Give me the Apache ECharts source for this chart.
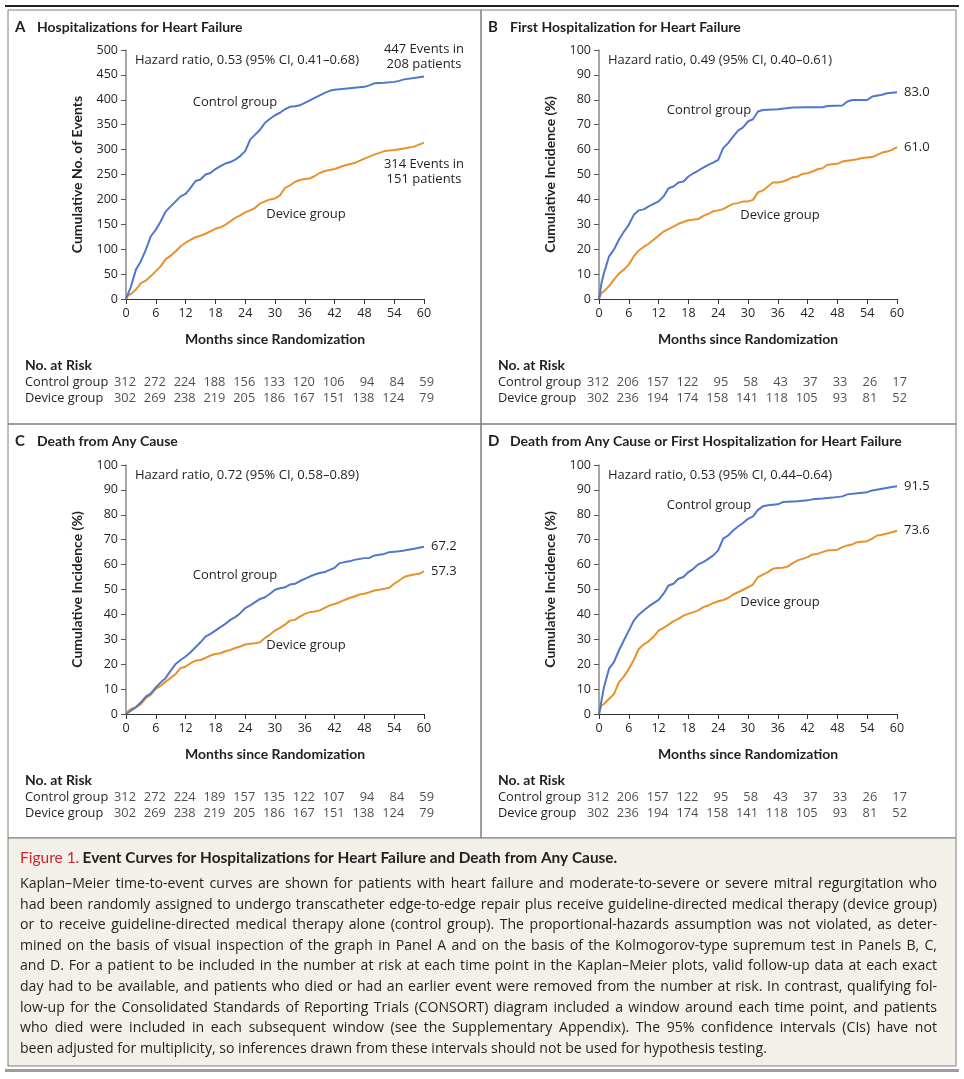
<!DOCTYPE html>
<html><head><meta charset="utf-8">
<script src="https://cdn.jsdelivr.net/npm/echarts@6/dist/echarts.min.js"></script>
<style>html,body{margin:0;padding:0;background:#fff}#c{width:964px;height:1079px}</style>
</head><body><div id="c"></div>
<script>
function range(a,b){var r=[];for(var i=a;i<=b;i++)r.push(i);return r;}

// ---------- DATA ----------
var months = [0,6,12,18,24,30,36,42,48,54,60];

var aCtrlT = range(0,42).concat([44,46,48,49,50,52,54,55,56,58,60]);
var aCtrlV = [0,25,59,76,99,126,139,156,176,186,196,206,211,223,237,240,250,253,261,267,272,275,280,287,297,320,330,340,354,362,369,374,381,386,387,389,394,399,404,409,414,418,420,422,424,426,429,433,434,436,438,441,444,447];
var aDevT = [0,0.5].concat(range(1,40)).concat([42,44,46,48,50,52,54,56,58,59,60]);
var aDevV = [0,8,10,19,32,37,46,56,66,80,87,96,106,113,119,124,127,131,136,141,144,149,156,163,168,174,178,183,192,196,200,202,208,223,228,235,239,241,242,247,253,257,261,268,273,282,290,297,299,302,306,310,314];

var bCtrlT = [0,0.5].concat(range(1,33)).concat([36,39,42,45,46,49,50,51,54,55,57,58,60]);
var bCtrlV = [0,6.4,10.4,17,19.8,23.8,27,29.8,33.8,35.6,36,37.2,38.2,39.2,41.2,44.5,45.2,46.8,47.2,49.2,50.5,51.6,52.8,53.9,54.8,55.9,60.6,62.6,65.2,67.6,68.9,71.3,72.2,75.3,75.9,76.2,76.9,77,77,77.5,77.7,79.3,79.9,79.9,81.3,82,82.6,83.0];
var bDevT = [0,0.5].concat(range(1,16)).concat([18,20]).concat(range(21,46)).concat([48,49,52,53,55,56,57,58,59,60]);
var bDevV = [0,2.5,3.1,5.1,7.8,10.2,11.8,13.8,17.1,19.5,20.9,22.2,23.8,25.4,27.1,28.1,29.1,30.2,31.6,32.1,33.4,34.2,35.2,35.6,36.1,37.2,38.2,38.5,39.2,39.2,39.8,42.8,43.6,45.2,46.8,46.8,47.2,47.9,48.9,49.2,50.3,50.5,51.2,52.1,52.5,53.9,54.3,55.2,56.1,56.6,57,57.9,58.8,59.2,59.9,61.0];

var cCtrlT = range(0,46).concat([48,49,50,52,53,55,56,58,60]);
var cCtrlV = [0,1.3,2.7,4.7,7,8.3,10.7,12.7,14.5,17.4,20.1,21.7,23.1,24.8,26.8,28.8,31.1,32.2,33.5,34.9,36.2,37.8,38.9,40.5,42.5,43.6,44.9,46.2,46.9,48.3,49.9,50.5,50.9,52,52.3,53.4,54.3,55.2,56,56.6,57,57.9,58.7,60.6,61,61.3,61.9,62.6,62.7,63.7,64.3,65,65.4,65.7,66.4,67.2];
var cDevT = [0,0.5].concat(range(1,60));
var cDevV = [0,1.3,2,2.7,4,6.4,7.8,10.1,11.4,13,14.5,16.1,18.5,19,20.4,21.4,21.7,22.5,23.5,24.1,24.4,25.2,25.7,26.5,27.1,27.9,28.2,28.4,28.8,30.6,31.9,33.5,34.6,35.9,37.5,37.8,39.1,40.2,40.9,41.2,41.6,42.6,43.6,44.2,44.9,45.8,46.6,47.2,48,48.3,48.9,49.6,49.9,50.3,50.7,52.3,53.6,55,55.6,56,56.3,57.3];

var dCtrlT = [0,0.5].concat(range(1,34)).concat([36,37,40,42,43,45,47,49,50,52,54,55,57,59,60]);
var dCtrlV = [0,5.4,10.7,18.1,20.8,25.5,29.5,33.5,37.5,39.9,41.6,43.2,44.5,45.8,48.3,51.6,52.3,54.3,55,57,58.3,60.1,61,62.3,63.7,65.7,70.4,71.7,73.7,75.3,76.7,78.4,79.4,82,83.4,83.8,84.2,85.1,85.4,85.8,86.2,86.5,86.9,87.4,88.2,88.7,89.1,89.8,90.5,91.2,91.5];
var dDevT = [0,0.5].concat(range(1,46)).concat([48,49,50,51,52,54,55,56,57,59,60]);
var dDevV = [0,3.5,4,6,8,12.7,15,18.1,21.7,26.1,27.9,29.2,31.1,33.5,34.6,35.9,37.3,38.2,39.5,40.2,40.9,41.6,42.9,43.6,44.5,45.3,45.8,46.6,48,48.9,49.9,50.9,52,55,56,57,58.3,58.6,58.7,59.2,60.6,61.7,62.3,63,64.1,64.3,65,65.7,66,67,67.7,68.1,69,69.4,70.4,71.7,72,73,73.6];

var riskCtrlA    = [312,272,224,188,156,133,120,106,94,84,59];
var riskDevA     = [302,269,238,219,205,186,167,151,138,124,79];
var riskCtrlBD   = [312,206,157,122,95,58,43,37,33,26,17];
var riskDevBD    = [302,236,194,174,158,141,118,105,93,81,52];
var riskCtrlC    = [312,272,224,189,157,135,122,107,94,84,59];
var riskDevC     = [302,269,238,219,205,186,167,151,138,124,79];

var titles = ['Hospitalizations for Heart Failure','First Hospitalization for Heart Failure','Death from Any Cause','Death from Any Cause or First Hospitalization for Heart Failure'];
var letters = ['A','B','C','D'];
var hazards = ['Hazard ratio, 0.53 (95% CI, 0.41\u20130.68)','Hazard ratio, 0.49 (95% CI, 0.40\u20130.61)','Hazard ratio, 0.72 (95% CI, 0.58\u20130.89)','Hazard ratio, 0.53 (95% CI, 0.44\u20130.64)'];
var yNames = ['Cumulative No. of Events','Cumulative Incidence (%)','Cumulative Incidence (%)','Cumulative Incidence (%)'];
var yMax = [500,100,100,100];
var yInt = [50,10,10,10];

var captionLines = [
'Kaplan\u2013Meier time-to-event curves are shown for patients with heart failure and moderate-to-severe or severe mitral regurgitation who',
'had been randomly assigned to undergo transcatheter edge-to-edge repair plus receive guideline-directed medical therapy (device group)',
'or to receive guideline-directed medical therapy alone (control group). The proportional-hazards assumption was not violated, as deter-',
'mined on the basis of visual inspection of the graph in Panel A and on the basis of the Kolmogorov-type supremum test in Panels B, C,',
'and D. For a patient to be included in the number at risk at each time point in the Kaplan\u2013Meier plots, valid follow-up data at each exact',
'day had to be available, and patients who died or had an earlier event were removed from the number at risk. In contrast, qualifying fol-',
'low-up for the Consolidated Standards of Reporting Trials (CONSORT) diagram included a window around each time point, and patients',
'who died were included in each subsequent window (see the Supplementary Appendix). The 95% confidence intervals (CIs) have not',
'been adjusted for multiplicity, so inferences drawn from these intervals should not be used for hypothesis testing.'
];

// ---------- STYLE / LAYOUT ----------
var BFONT = 'Lato, "Open Sans", sans-serif';
var FONT = '"Open Sans", Lato, sans-serif';
var BLUE = '#5077cb', ORANGE = '#e8922b', TXT = '#231f20';
var curves = [[aCtrlT,aCtrlV,aDevT,aDevV],[bCtrlT,bCtrlV,bDevT,bDevV],[cCtrlT,cCtrlV,cDevT,cDevV],[dCtrlT,dCtrlV,dDevT,dDevV]];
var risks = [[riskCtrlA,riskDevA],[riskCtrlBD,riskDevBD],[riskCtrlC,riskDevC],[riskCtrlBD,riskDevBD]];
var px = [126,599,126,599];
var py = [50,50,465,465];
var boxX = [8,481,8,481], boxY=[10,10,424,424], boxW=[473,475,473,475];
var ctrlLbl = [[235,102],[709,110],[235,575],[709,505]];
var devLbl = [[306,214],[780,215],[306,645],[780,602]];

function zip(t,v){return t.map(function(x,i){return [x,v[i]];});}

var grid=[],xAxis=[],yAxis=[],series=[],graphic=[];
for (var i=0;i<4;i++){
  grid.push({left:px[i],top:py[i],width:298,height:249});
  grid.push({left:px[i],top:py[i]+332,width:298,height:16});
  var gm=2*i, gr=2*i+1;
  xAxis.push({gridIndex:gm,type:'value',min:0,max:60,interval:6,
    name:'Months since Randomization',nameLocation:'middle',nameGap:33,
    nameTextStyle:{fontFamily:BFONT,fontWeight:'bold',fontSize:14,color:TXT},
    axisLine:{lineStyle:{color:'#333',width:1}},
    axisTick:{show:true,length:5,lineStyle:{color:'#333'}},
    axisLabel:{fontFamily:FONT,fontSize:12.5,color:TXT,margin:8},
    splitLine:{show:false}});
  yAxis.push({gridIndex:gm,type:'value',min:0,max:yMax[i],interval:yInt[i],
    name:yNames[i],nameLocation:'middle',nameRotate:90,nameGap:42,
    nameTextStyle:{fontFamily:BFONT,fontWeight:'bold',fontSize:14,color:TXT},
    axisLine:{show:true,lineStyle:{color:'#8a8a8a',width:1.5}},
    axisTick:{show:true,length:5,lineStyle:{color:'#555'}},
    axisLabel:{fontFamily:FONT,fontSize:12.5,color:TXT,margin:8},
    splitLine:{show:false}});
  xAxis.push({gridIndex:gr,type:'value',min:0,max:60,show:false});
  yAxis.push({gridIndex:gr,type:'value',min:0,max:1,show:false});

  var c=curves[i];
  var endLab = function(on){return {show:on,fontFamily:FONT,fontSize:13,color:TXT,distance:7,
      formatter:function(p){return p.value[1].toFixed(1);}};};
  series.push({type:'line',xAxisIndex:gm,yAxisIndex:gm,data:zip(c[2],c[3]),showSymbol:false,
    lineStyle:{color:ORANGE,width:2},itemStyle:{color:ORANGE},endLabel:endLab(i>0),z:3});
  series.push({type:'line',xAxisIndex:gm,yAxisIndex:gm,data:zip(c[0],c[1]),showSymbol:false,
    lineStyle:{color:BLUE,width:2},itemStyle:{color:BLUE},endLabel:endLab(i>0),z:4});

  var rd=[];
  months.forEach(function(m,k){rd.push([m,1,risks[i][0][k]]);rd.push([m,0,risks[i][1][k]]);});
  series.push({type:'scatter',xAxisIndex:gr,yAxisIndex:gr,data:rd,symbolSize:1,itemStyle:{color:'rgba(0,0,0,0)'},
    label:{show:true,position:'inside',align:'right',verticalAlign:'middle',offset:[10,0],fontFamily:FONT,fontSize:12.8,color:TXT,
      formatter:function(p){return String(p.value[2]);}}});

  // frames & texts
  graphic.push({type:'rect',shape:{x:boxX[i],y:boxY[i],width:boxW[i],height:414},style:{fill:'none',stroke:'#7d7d7d',lineWidth:1},z:0});
  var tl = boxX[i];
  graphic.push({type:'text',x:tl+7,y:boxY[i]+17,style:{text:letters[i],font:'bold 15px '+BFONT,fill:TXT,textVerticalAlign:'middle'}});
  graphic.push({type:'text',x:tl+29,y:boxY[i]+17,style:{text:titles[i],font:'bold 14px '+BFONT,fill:TXT,textVerticalAlign:'middle'}});
  graphic.push({type:'text',x:px[i]+9,y:py[i]+10,style:{text:hazards[i],font:'13px '+FONT,fill:TXT,textVerticalAlign:'middle'}});
  graphic.push({type:'text',x:ctrlLbl[i][0],y:ctrlLbl[i][1],style:{text:'Control group',font:'13px '+FONT,fill:TXT,textAlign:'center',textVerticalAlign:'middle'}});
  graphic.push({type:'text',x:devLbl[i][0],y:devLbl[i][1],style:{text:'Device group',font:'13px '+FONT,fill:TXT,textAlign:'center',textVerticalAlign:'middle'}});
  var rx = tl+17, ry = py[i]+315;
  graphic.push({type:'text',x:rx,y:ry,style:{text:'No. at Risk',font:'bold 14px '+BFONT,fill:TXT,textVerticalAlign:'middle'}});
  graphic.push({type:'text',x:rx,y:ry+17,style:{text:'Control group',font:'12.8px '+FONT,fill:TXT,textVerticalAlign:'middle'}});
  graphic.push({type:'text',x:rx,y:ry+33,style:{text:'Device group',font:'12.8px '+FONT,fill:TXT,textVerticalAlign:'middle'}});
}
// Panel A end annotations
graphic.push({type:'text',x:424,y:57,style:{text:'447 Events in\n208 patients',font:'13px '+FONT,fill:TXT,textAlign:'center',textVerticalAlign:'middle',lineHeight:15}});
graphic.push({type:'text',x:424,y:172,style:{text:'314 Events in\n151 patients',font:'13px '+FONT,fill:TXT,textAlign:'center',textVerticalAlign:'middle',lineHeight:15}});
// top rule, caption
graphic.push({type:'rect',shape:{x:5,y:5,width:954,height:2},style:{fill:'#222'}});
graphic.push({type:'rect',shape:{x:8,y:838,width:948,height:228},style:{fill:'#f3efe9',stroke:'#7d7d7d',lineWidth:1},z:0});
graphic.push({type:'rect',shape:{x:5,y:1069,width:954,height:3},style:{fill:'#9d9d9d'}});
graphic.push({type:'text',x:20,y:858,style:{
  text:'{r|Figure 1.} {b|Event Curves for Hospitalizations for Heart Failure and Death from Any Cause.}',
  rich:{r:{fontFamily:BFONT,fontSize:15.5,fill:'#d2232a',color:'#d2232a'},
        b:{fontFamily:BFONT,fontSize:15.4,fontWeight:'bold',fill:TXT,color:TXT}},
  textVerticalAlign:'middle'}});

// justified caption text (words laid out by measured width)
var CAP_FONT = '14.1px ' + FONT, CAP_L = 20, CAP_R = 937;
var mctx = document.createElement('canvas').getContext('2d');
mctx.font = CAP_FONT;
captionLines.forEach(function(l,k){
  var y = 884 + k*20.6;
  var words = l.split(' ');
  var widths = words.map(function(w){return mctx.measureText(w).width;});
  var total = widths.reduce(function(a,b){return a+b;},0);
  var last = (k === captionLines.length-1);
  var gap = last ? mctx.measureText(' ').width : (CAP_R-CAP_L-total)/(words.length-1);
  var x = CAP_L;
  words.forEach(function(w,j){
    graphic.push({type:'text',x:x,y:y,style:{text:w,font:CAP_FONT,fill:TXT,textVerticalAlign:'middle'}});
    x += widths[j] + gap;
  });
});

var chart = echarts.init(document.getElementById('c'),null,{renderer:'canvas'});
chart.setOption({animation:false,backgroundColor:'#fff',textStyle:{fontFamily:FONT},
  grid:grid,xAxis:xAxis,yAxis:yAxis,series:series,graphic:{elements:graphic}});
</script></body></html>
